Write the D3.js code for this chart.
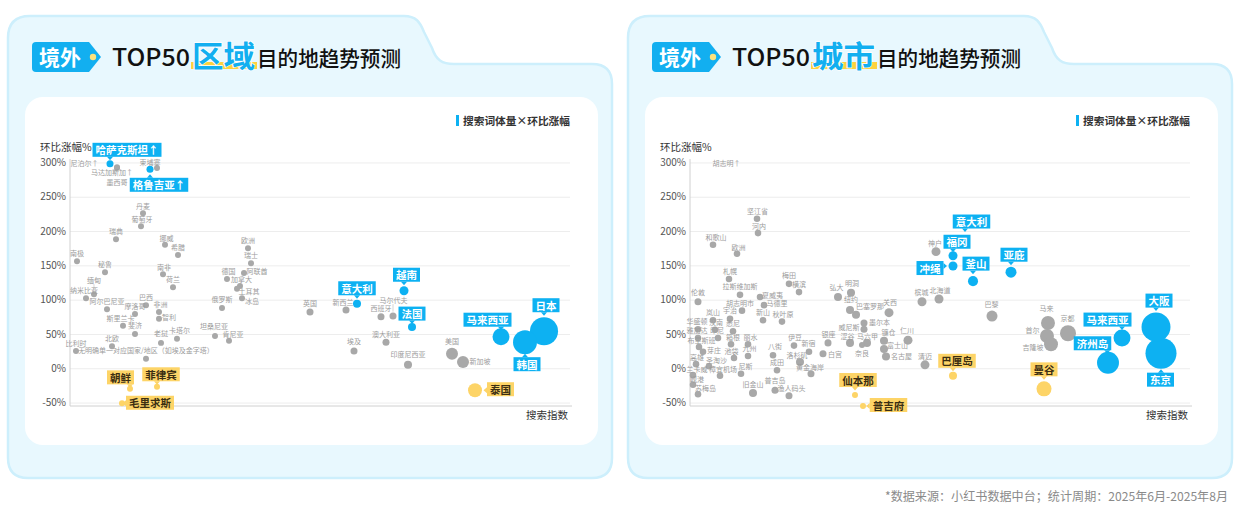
<!DOCTYPE html>
<html><head><meta charset="utf-8">
<script src="https://cdn.jsdelivr.net/npm/d3@7"></script>
<style>
body{margin:0;background:#fff;}
svg{display:block;font-family:"Noto Sans CJK SC","Noto Sans",sans-serif;}
</style></head><body>
<svg id="c" width="1240" height="517"></svg>
<script>
// ---------------- DATA ----------------
const yTicks = [300,250,200,150,100,50,0,-50];

const regionNames = ['尼泊尔↑','马达加斯加↑','墨西哥','哈萨克斯坦↑','柬埔寨','格鲁吉亚↑','丹麦','葡萄牙','瑞典','挪威','希腊','南极','秘鲁','南非','荷兰','缅甸','纳米比亚','阿尔巴尼亚','巴西','摩洛哥','非洲','智利','斯里兰卡','斐济','比利时','北欧','老挝','卡塔尔','坦桑尼亚','肯尼亚','俄罗斯','无明确单一对应国家/地区（如埃及金字塔）','德国','阿联酋','加拿大','土耳其','冰岛','欧洲','瑞士','英国','新西兰','意大利','越南','马尔代夫','西班牙','法国','澳大利亚','埃及','印度尼西亚','美国','新加坡','马来西亚','日本','韩国','泰国','朝鲜','菲律宾','毛里求斯'];
const regionSearch = [2.9,9.4,9.4,8,17.4,16,14.6,14.2,9.2,19,21.6,1.4,7,18.6,20.6,4.8,3.2,7.4,15.2,13,17.8,17.8,10.6,13,1.2,8.4,18.2,21.4,29,31.8,30.4,15.2,31.4,34.8,34,33.4,34.4,35.6,36.2,48,55.2,57.4,66.8,64.6,62.2,68.4,63.2,56.8,67.6,76.4,78.6,86.2,94.8,91,81,12,17.4,10.4];
const regionGrowth = [312,293,292,298,292,290,226,207,188,180,165,156,140,137,118,108,102,86,92,79,82,72,62,50,25,32,37,43,47,40,88,14,130,139,120,116,102,175,153,82,85,94,113,76,75,60,38,25,5,21,9,46,54,38,-32,-30,-27,-51];
const regionVolume = [3.5,3.5,3.5,4.8,3.5,4.8,3.5,3.5,3.5,3.5,3.5,3.5,3.5,3.5,3.5,3.5,3.5,3.5,3.5,3.5,3.5,3.5,3.5,3.5,3.5,3.5,3.5,3.5,3.5,3.5,3.5,3.5,3.5,3.5,3.5,3.5,3.5,3.5,3.5,4.8,4.8,6.3,7.9,4.8,4.8,6.3,4.8,4.8,6.3,14,14,28,77,56,19,3.5,3.5,3.5];
const regionType = ['g','g','g','b','g','b','g','g','g','g','g','g','g','g','g','g','g','g','g','g','g','g','g','g','g','g','g','g','g','g','g','g','g','g','g','g','g','g','g','g','g','b','b','g','g','b','g','g','g','g','g','b','b','b','y','y','y','y'];

const cityNames = ['胡志明↑','坚江省','河内','和歌山','欧洲','札幌','梅田','横滨','拉斯维加斯','弘大','明洞','伦敦','夏威夷','马德里','胡志明市','岚山','宇治','新山','秋叶原','华盛顿','汉南','悉尼','雅加达','印尼','布里斯班','箱根','丽水','芽庄','池袋','九州','高雄','圣淘沙','兰卡威','樟宜机场','尼斯','岘港','苏梅岛','旧金山','普吉岛','渔人码头','成田','八街','伊豆','新宿','洛杉矶','黄金海岸','白宫','银座','纽约','巴塞罗那','关西','墨尔本','威尼斯','涩谷','马六甲','奈良','镰仓','富士山','名古屋','仁川','清迈','槟城','北海道','神户','巴黎','马来','首尔','吉隆坡','京都','意大利','福冈','冲绳','釜山','亚庇','马来西亚','济州岛','大阪','东京','仙本那','普吉府','巴厘岛','曼谷'];
const citySearch = [7.3,13.4,13.6,4.6,9.4,7.8,19.8,21.8,10,29.6,32.2,1.6,14,14.8,10.4,4.6,8,14.6,18.4,1.6,5,8.6,1.6,5.6,1.8,8.2,11.6,2.6,8.8,11.6,1.2,3.8,0.6,6,10.2,0.6,1.6,12.6,17,19.8,17.4,16.6,20.8,23.8,22,24.2,26.6,27.6,32,33.2,39.8,34.8,34.8,32,35.4,34.4,38.8,38.8,39.2,43.6,47,46.4,49.8,49.2,60.4,71.6,71.4,72.2,75.6,55,52.6,52.6,56.6,64.2,86.4,83.6,93.2,94.2,33,34.6,52.6,70.8];
const cityGrowth = [312,218,197,180,167,130,123,111,107,104,110,97,104,92,84,70,72,70,68,57,56,54,44,44,31,35,35,24,15,18,6,3,-10,-11,-8,-24,-38,-36,-32,-40,-3,19,33,24,9,-8,21,37,85,78,81,66,57,37,37,34,40,28,17,41,5,97,101,170,76,66,47,35,51,184,164,149,127,140,44,8,60,22,-39,-55,-11,-30];
const cityVolume = [4.2,4.2,4.2,4.2,4.2,4.2,4.2,4.2,4.2,6.3,6.3,4.8,4.2,4.2,4.2,4.2,4.2,4.2,4.2,4.2,4.2,4.2,4.2,4.2,4.2,4.2,4.2,4.2,4.2,4.2,4.2,4.2,4.2,4.2,4.2,4.2,4.2,6.3,4.8,4.8,4.2,4.2,4.2,4.2,6.3,4.8,4.8,4.8,6.3,6.3,7.9,4.8,4.8,6.3,6.3,3.5,6.3,6.3,6.3,7.9,7.9,7.9,7.9,7.9,11.8,19,19,19,25,6.3,7.9,7.9,9.8,11.8,28,47,82,94,3.5,3.5,6.3,22];
const cityType = ['g','g','g','g','g','g','g','g','g','g','g','g','g','g','g','g','g','g','g','g','g','g','g','g','g','g','g','g','g','g','g','g','g','g','g','g','g','g','g','g','g','g','g','g','g','g','g','g','g','g','g','g','g','g','g','g','g','g','g','g','g','g','g','g','g','g','g','g','g','b','b','b','b','b','b','b','b','b','y','y','y','y'];

// ---------------- LABEL LAYOUT (offsets from dot) ----------------
const regionLabelAt = {
 '尼泊尔↑':[0,1],'马达加斯加↑':[-5,5],'墨西哥':[0,14],'哈萨克斯坦↑':[17,-14,'t'],'柬埔寨':[-7,-6],
 '格鲁吉亚↑':[9,15.5,'b'],'丹麦':[0,-7],'葡萄牙':[1,-7],'挪威':[1.5,-7],'南非':[1,-7],
 '缅甸':[0,-14,'line'],'纳米比亚':[-2,-8],'非洲':[1.5,-8],'智利':[10,-2],'斯里兰卡':[-2.5,-8],
 '老挝':[0,-10],'卡塔尔':[2.5,-9],'坦桑尼亚':[-1,-10],'肯尼亚':[4,-7],'德国':[1.5,-8],'阿联酋':[13,-2],'加拿大':[1.5,-7],
 '土耳其':[12,2],'冰岛':[10,3],'英国':[0,-9],'新西兰':[-3,-8],'意大利':[0,-15.5,'t'],'越南':[2.5,-16,'t'],
 '马尔代夫':[0.5,-16,'line'],'法国':[0,-13.5,'t'],'埃及':[0,-10],'印度尼西亚':[0,-11],'美国':[0,-13],
 '新加坡':[17,-1],'马来西亚':[-13.5,-17,'t'],'日本':[2,-26,'t'],'韩国':[2,22,'b'],'泰国':[25.5,-1,'r'],
 '朝鲜':[-9.5,-11.5,'t'],'菲律宾':[4,-12.5,'t'],'毛里求斯':[28,-0.5,'r']
};
const cityLabelAt = {
 '胡志明↑':[0,1],'坚江省':[0.5,-8],'河内':[1,-7],'和歌山':[3,-8],'欧洲':[1.5,-7],'札幌':[1,-8],
 '弘大':[-1.5,-10],'明洞':[1,-10],'伦敦':[0,-10],'夏威夷':[12.5,-2],'马德里':[13,-2],'胡志明市':[-2,-8],
 '秋叶原':[1,-8],'华盛顿':[-1,-8],'汉南':[1,-8],'雅加达':[-1,-8],'印尼':[-1,-8],'布里斯班':[2.5,-7],
 '箱根':[2,-7],'丽水':[2.5,-7],'芽庄':[11,-2],'池袋':[-2.5,-7],'九州':[1.5,-8],'高雄':[1,-7],
 '圣淘沙':[7.5,-6],'兰卡威':[4,-6],'樟宜机场':[3,-7],'尼斯':[4.5,-8],'岘港':[4,-6],'苏梅岛':[7.5,-6],
 '普吉岛':[0,-10],'渔人码头':[2.5,-8],'八街':[2,-9],'伊豆':[1,-9],'新宿':[-0.5,-9],'洛杉矶':[-3,-7],
 '黄金海岸':[-1,-7],'白宫':[12,0],'银座':[0.5,-9],'纽约':[1,-11],'巴塞罗那':[14,-9],'关西':[1,-11],
 '墨尔本':[15.5,-1],'威尼斯':[-15,-2],'涩谷':[-2.5,-7],'马六甲':[0.5,-7],'奈良':[0,8],'镰仓':[4.5,-9],
 '富士山':[13.5,-4],'名古屋':[15.5,-1],'仁川':[-1,-10],'清迈':[0,-9],'槟城':[-0.5,-10],'北海道':[1,-9],
 '神户':[-1,-9],'巴黎':[-0.5,-12],'马来':[-1.5,-15],'首尔':[-14.5,-6],'吉隆坡':[-18,3],'京都':[-0.5,-15],
 '意大利':[6.5,-20.5,'t'],'福冈':[4,-14,'t'],'冲绳':[-23,2,'l'],'釜山':[3,-17.5,'t'],'亚庇':[3,-17.5,'t'],
 '马来西亚':[-14.5,-18.5,'t'],'济州岛':[-15.5,-19.5,'t'],'大阪':[3,-26.5,'t'],'东京':[-0.5,26.5,'b'],
 '仙本那':[3,-15,'t'],'普吉府':[25.5,-1,'r'],'巴厘岛':[4,-15,'t'],'曼谷':[0,-19.5,'t']
};

// ---------------- DRAW ----------------
const BLUE = '#0db1f2', YEL = '#fdd467', GRAY = '#a8a8a8';
const svg = d3.select('#c');
const defs = svg.append('defs');

function panelPath(ox){
  const p = d3.path();
  const x0=ox+8, x1=ox+612, t=16, t2=64, b=478;
  p.moveTo(x0, t+22);
  p.quadraticCurveTo(x0, t, x0+22, t);
  p.lineTo(ox+404, t);
  p.bezierCurveTo(ox+416, t, ox+420, t+6, ox+424, t+16);
  p.lineTo(ox+432, t2-16);
  p.bezierCurveTo(ox+436, t2-4, ox+442, t2, ox+454, t2);
  p.lineTo(x1-20, t2);
  p.quadraticCurveTo(x1, t2, x1, t2+20);
  p.lineTo(x1, b-20);
  p.quadraticCurveTo(x1, b, x1-20, b);
  p.lineTo(x0+20, b);
  p.quadraticCurveTo(x0, b, x0, b-20);
  p.closePath();
  return p.toString();
}

function drawPanel(ox, word, names, xs, ys, vols, types, layout, idx){
  const g = svg.append('g');
  g.append('path').attr('d', panelPath(ox)).attr('fill','#e8f8fe').attr('stroke','#cdeffc').attr('stroke-width',2.5);
  g.append('rect').attr('x',ox+25).attr('y',97).attr('width',573).attr('height',348).attr('rx',18).attr('fill','#fff');

  // title badge
  const bp = d3.path();
  bp.moveTo(ox+36,42); bp.lineTo(ox+89,42); bp.lineTo(ox+101,57); bp.lineTo(ox+89,72);
  bp.lineTo(ox+36,72); bp.quadraticCurveTo(ox+32,72,ox+32,68); bp.lineTo(ox+32,46);
  bp.quadraticCurveTo(ox+32,42,ox+36,42); bp.closePath();
  g.append('path').attr('d',bp.toString()).attr('fill','#12aff0');
  g.append('circle').attr('cx',ox+93).attr('cy',57).attr('r',3.2).attr('fill','#fde37c');
  g.append('text').attr('x',ox+60).attr('y',65).attr('text-anchor','middle').attr('font-size',21)
    .attr('font-weight',700).attr('fill','#fff').text('境外');
  g.append('text').attr('x',ox+112).attr('y',66).attr('font-size',24).attr('font-weight',500)
    .attr('fill','#111').attr('textLength',78).attr('lengthAdjust','spacingAndGlyphs').text('TOP50');
  g.append('rect').attr('x',ox+191).attr('y',62).attr('width',66).attr('height',7).attr('fill','#fcd23f');
  g.append('text').attr('x',ox+192).attr('y',67).attr('font-size',30).attr('font-weight',700)
    .attr('fill','#12aff0').attr('stroke','#fff').attr('stroke-width',1.5).attr('paint-order','stroke')
    .attr('textLength',63).attr('lengthAdjust','spacingAndGlyphs').text(word);
  g.append('text').attr('x',ox+257).attr('y',66).attr('font-size',21).attr('font-weight',500)
    .attr('fill','#111').attr('textLength',144).attr('lengthAdjust','spacingAndGlyphs').text('目的地趋势预测');

  // legend
  g.append('rect').attr('x',ox+456).attr('y',115).attr('width',3).attr('height',11).attr('fill',BLUE);
  g.append('text').attr('x',ox+463).attr('y',124.5).attr('font-size',10.5).attr('font-weight',700)
    .attr('fill','#333').attr('textLength',107).attr('lengthAdjust','spacingAndGlyphs').text('搜索词体量×环比涨幅');

  // scales
  const x = d3.scaleLinear().domain([0,100]).range([ox+70, ox+570]);
  const y = d3.scaleLinear().domain([-55,305]).range([406,159]);
  const r = d3.scaleSqrt().domain([0,100]).range([0,16]);

  // grid
  g.append('g').attr('transform',`translate(${ox+70},0)`)
    .call(d3.axisLeft(y).tickValues(yTicks).tickSize(-500).tickFormat(''))
    .call(s=>{s.select('.domain').remove(); s.selectAll('line').attr('stroke','#ededed');});
  const ax = g.append('g').attr('transform',`translate(${ox+70},0)`)
    .call(d3.axisLeft(y).tickValues(yTicks).tickSize(0).tickPadding(4).tickFormat(d=>d+'%'));
  ax.select('.domain').remove();
  ax.attr('font-family','"Noto Sans CJK SC",sans-serif').attr('font-size',10);
  ax.selectAll('text').attr('fill','#555');

  g.append('line').attr('x1',ox+70).attr('x2',ox+70).attr('y1',159).attr('y2',406).attr('stroke','#d0d0d0');
  g.append('line').attr('x1',ox+70).attr('x2',ox+572).attr('y1',406).attr('y2',406).attr('stroke','#d0d0d0');

  g.append('text').attr('x',ox+40).attr('y',151).attr('font-size',10.5).attr('fill','#333').text('环比涨幅%');
  g.append('text').attr('x',ox+568).attr('y',419).attr('text-anchor','end').attr('font-size',10.5)
    .attr('fill','#333').text('搜索指数');

  // clip
  const cid = 'clip'+idx;
  defs.append('clipPath').attr('id',cid).append('rect')
    .attr('x',ox+60).attr('y',159).attr('width',530).attr('height',255);

  const order = {g:0,y:1,b:2};
  const pts = names.map((n,i)=>({n, sx:xs[i], gy:ys[i], v:vols[i], t:types[i]}))
    .sort((a,b)=> order[a.t]-order[b.t] || b.v-a.v);
  const col = t => t==='b'?BLUE:(t==='y'?YEL:GRAY);

  g.append('g').attr('clip-path',`url(#${cid})`).selectAll('circle').data(pts).join('circle')
    .attr('cx',d=>x(d.sx)).attr('cy',d=>y(d.gy)).attr('r',d=>r(d.v)).attr('fill',d=>col(d.t));

  const lab = g.append('g');
  pts.forEach(d=>{
    const cx = x(d.sx), cy = y(Math.min(d.gy,300)), rad = r(d.v);
    const L = layout[d.n] || [0,-8.5];
    const dx=L[0], dy=L[1], opt=L[2];
    if (d.t==='g'){
      if (opt==='line'){
        lab.append('line').attr('x1',cx).attr('x2',cx).attr('y1',cy-rad-1).attr('y2',cy+dy+4)
          .attr('stroke','#bbb').attr('stroke-width',0.6);
      }
      lab.append('text').attr('x',cx+dx).attr('y',cy+dy).attr('text-anchor','middle')
        .attr('dominant-baseline','central').attr('font-size',7).attr('fill','#9c9c9c').text(d.n);
    } else {
      const bg = lab.append('g');
      const tx = bg.append('text').attr('x',cx+dx).attr('y',cy+dy).attr('text-anchor','middle')
        .attr('dominant-baseline','central').attr('font-size',10.5).attr('font-weight',700)
        .attr('fill', d.t==='b'?'#fff':'#3b2e12').text(d.n);
      const w = tx.node().getComputedTextLength()+6, h=14;
      const bx = cx+dx-w/2, by = cy+dy-h/2;
      const c = col(d.t);
      bg.insert('rect','text').attr('x',bx).attr('y',by).attr('width',w).attr('height',h).attr('fill',c);
      const side = opt || (dy<0?'t':'b');
      let tri;
      if (side==='t'){ const px=Math.max(bx+4,Math.min(bx+w-4,cx)); tri=[[px-3,by+h],[px+3,by+h],[px,by+h+3.5]]; }
      else if (side==='b'){ const px=Math.max(bx+4,Math.min(bx+w-4,cx)); tri=[[px-3,by],[px+3,by],[px,by-3.5]]; }
      else if (side==='r'){ const py=Math.max(by+4,Math.min(by+h-4,cy)); tri=[[bx,py-3],[bx,py+3],[bx-3.5,py]]; }
      else { const py=Math.max(by+4,Math.min(by+h-4,cy)); tri=[[bx+w,py-3],[bx+w,py+3],[bx+w+3.5,py]]; }
      bg.insert('path','text').attr('d','M'+tri.map(p=>p.join(',')).join('L')+'Z').attr('fill',c);
    }
  });
}

drawPanel(0,'区域',regionNames,regionSearch,regionGrowth,regionVolume,regionType,regionLabelAt,0);
drawPanel(620,'城市',cityNames,citySearch,cityGrowth,cityVolume,cityType,cityLabelAt,1);

svg.append('text').attr('x',1228).attr('y',501).attr('text-anchor','end').attr('font-size',12)
  .attr('fill','#8a8a8a').attr('textLength',343).attr('lengthAdjust','spacingAndGlyphs')
  .text('*数据来源：小红书数据中台；统计周期：2025年6月-2025年8月');
</script>
</body></html>
